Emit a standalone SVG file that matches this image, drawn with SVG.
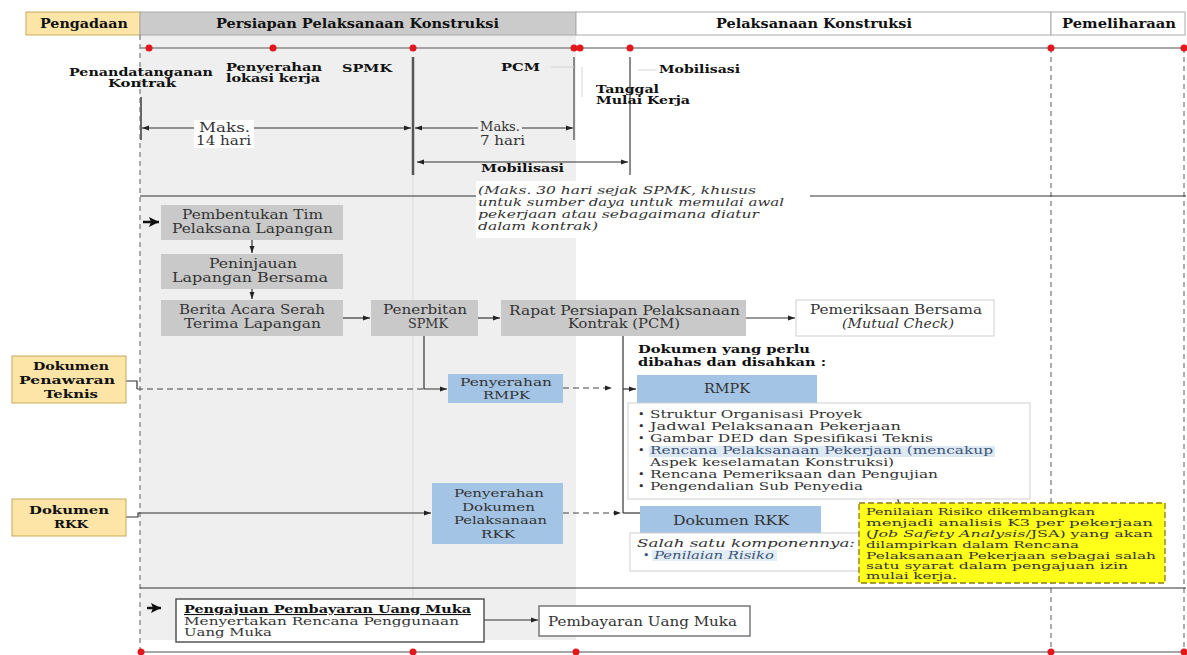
<svg xmlns="http://www.w3.org/2000/svg" width="1187" height="655" viewBox="0 0 1187 655">
<defs>
<style>
text{font-family:"DejaVu Serif","Liberation Serif",serif;font-size:12px;fill:#333}
.b{font-weight:bold;fill:#111}
.i{font-style:italic}
.s{font-size:10px}
.m{font-size:11px}
.hb{font-weight:bold;fill:#111;font-size:12px}
.gbox{fill:#c9c9c9}
.bbox{fill:#a3c4e4}
.ybox{fill:#fde5a8;stroke:#c9aa5c;stroke-width:1}
.wbox{fill:#fff;stroke:#cfcfcf;stroke-width:1}
.ln{stroke:#333;stroke-width:1.2;fill:none}
.dl{stroke:#444;stroke-width:1.2;fill:none;stroke-dasharray:6,4}
.vd{stroke:#777;stroke-width:1.2;stroke-dasharray:5,4;fill:none}
.dot{fill:#e3161b}
.blu{fill:#3d5476}
</style>
<marker id="ah" viewBox="0 0 10 10" refX="10" refY="5" markerWidth="7" markerHeight="7" markerUnits="userSpaceOnUse" orient="auto-start-reverse"><path d="M0,1.5 L10,5 L0,8.5 z" fill="#222"/></marker>
<marker id="big" viewBox="0 0 10 10" refX="10" refY="5" markerWidth="10" markerHeight="10" markerUnits="userSpaceOnUse" orient="auto"><path d="M0,0 L10,5 L0,10 L2,5 z" fill="#111"/></marker>
</defs>
<rect width="1187" height="655" fill="#fff"/>
<g id="background">
<rect x="140" y="35" width="436" height="605" fill="#efefef"/>
<line x1="413" y1="175" x2="413" y2="640" stroke="#e0e0e0" stroke-width="1.5"/>
<rect x="26" y="12" width="114" height="23" fill="#fde5a8" stroke="#c9aa5c"/>
<rect x="140" y="12" width="436" height="23" fill="#cbcbcb" stroke="#aaa"/>
<rect x="576" y="12" width="475" height="23" fill="#fff" stroke="#aaa"/>
<rect x="1051" y="12" width="134" height="23" fill="#fff" stroke="#aaa"/>
<text class="hb" x="40" y="28" textLength="88" lengthAdjust="spacingAndGlyphs">Pengadaan</text>
<text class="hb" x="216" y="28" textLength="283" lengthAdjust="spacingAndGlyphs">Persiapan Pelaksanaan Konstruksi</text>
<text class="hb" x="716" y="28" textLength="196" lengthAdjust="spacingAndGlyphs">Pelaksanaan Konstruksi</text>
<text class="hb" x="1062" y="28" textLength="114" lengthAdjust="spacingAndGlyphs">Pemeliharaan</text>
<line x1="140" y1="35" x2="140" y2="650" class="vd"/>
<line x1="1051" y1="48" x2="1051" y2="650" class="vd"/>
<line x1="1184" y1="48" x2="1184" y2="650" class="vd"/>
<line x1="140" y1="48" x2="1186" y2="48" stroke="#8a8a8a" stroke-width="1.5"/>
<line x1="140" y1="652" x2="1186" y2="652" stroke="#8a8a8a" stroke-width="1.5"/>
<circle class="dot" cx="149" cy="48" r="3.5"/><circle class="dot" cx="273" cy="48" r="3.5"/><circle class="dot" cx="413" cy="48" r="3.5"/><circle class="dot" cx="574" cy="48" r="3.5"/><circle class="dot" cx="580" cy="48" r="3.5"/><circle class="dot" cx="630" cy="48" r="3.5"/><circle class="dot" cx="1051" cy="48" r="3.5"/><circle class="dot" cx="1184" cy="48" r="3.5"/>
<circle class="dot" cx="141" cy="652" r="3.5"/><circle class="dot" cx="413" cy="652" r="3.5"/><circle class="dot" cx="576" cy="652" r="3.5"/><circle class="dot" cx="1051" cy="652" r="3.5"/><circle class="dot" cx="1184" cy="652" r="3.5"/>
<line x1="413" y1="57" x2="413" y2="175" stroke="#555" stroke-width="2.5"/>
<line x1="574" y1="57" x2="574" y2="140" stroke="#666" stroke-width="1.5"/>
<line x1="630" y1="57" x2="630" y2="175" stroke="#666" stroke-width="1.5"/>
<line x1="141" y1="97" x2="141" y2="140" stroke="#666" stroke-width="2"/>
<path d="M551,67 H574 M582,67 V97 M638,70 H656" stroke="#d4d4d4" stroke-width="1" fill="none"/>
<text class="b m" x="69" y="76" textLength="144" lengthAdjust="spacingAndGlyphs">Penandatanganan</text>
<text class="b m" x="108" y="87" textLength="68" lengthAdjust="spacingAndGlyphs">Kontrak</text>
<text class="b m" x="226" y="71" textLength="96" lengthAdjust="spacingAndGlyphs">Penyerahan</text>
<text class="b m" x="226" y="82" textLength="94" lengthAdjust="spacingAndGlyphs">lokasi kerja</text>
<text class="b m" x="342" y="72" textLength="50" lengthAdjust="spacingAndGlyphs">SPMK</text>
<text class="b m" x="501" y="71" textLength="39" lengthAdjust="spacingAndGlyphs">PCM</text>
<text class="b m" x="659" y="73" textLength="81" lengthAdjust="spacingAndGlyphs">Mobilisasi</text>
<text class="b m" x="596" y="93" textLength="63" lengthAdjust="spacingAndGlyphs">Tanggal</text>
<text class="b m" x="596" y="104" textLength="94" lengthAdjust="spacingAndGlyphs">Mulai Kerja</text>
<line x1="140" y1="196" x2="1186" y2="196" stroke="#333" stroke-width="1.2"/>
<line x1="140" y1="588" x2="1186" y2="588" stroke="#333" stroke-width="1.2"/>
<rect x="476" y="181" width="334" height="57" fill="#fff"/>
<text class="i m" x="478" y="194" textLength="278" lengthAdjust="spacingAndGlyphs">(Maks. 30 hari sejak SPMK, khusus</text>
<text class="i m" x="478" y="206" textLength="306" lengthAdjust="spacingAndGlyphs">untuk sumber daya untuk memulai awal</text>
<text class="i m" x="478" y="218" textLength="281" lengthAdjust="spacingAndGlyphs">pekerjaan atau sebagaimana diatur</text>
<text class="i m" x="478" y="230" textLength="120" lengthAdjust="spacingAndGlyphs">dalam kontrak)</text>
</g>
<g id="connectors">
<path class="ln" d="M142,128 H411" marker-start="url(#ah)" marker-end="url(#ah)"/>
<path class="ln" d="M415,128 H573" marker-start="url(#ah)" marker-end="url(#ah)"/>
<path class="ln" d="M417,162 H628" marker-start="url(#ah)" marker-end="url(#ah)"/>
<path d="M143,222 H159" stroke="#111" stroke-width="2.5" fill="none" marker-end="url(#big)"/>
<path class="ln" d="M252,240 V253" marker-end="url(#ah)"/>
<path class="ln" d="M252,289 V299" marker-end="url(#ah)"/>
<path class="ln" d="M343,318 H370" marker-end="url(#ah)"/>
<path class="ln" d="M478,318 H500" marker-end="url(#ah)"/>
<path class="ln" d="M746,318 H795" marker-end="url(#ah)"/>
<path class="ln" d="M424,336 V389 H447" marker-end="url(#ah)"/>
<path class="ln" d="M126,381 H137 V389"/>
<path class="dl" d="M137,389 H424"/>
<path class="dl" d="M563,388 H612" marker-end="url(#ah)"/>
<path class="ln" d="M623,336 V513"/>
<path class="ln" d="M623,389 H636" marker-end="url(#ah)"/>
<path class="ln" d="M623,513 H652" marker-end="url(#ah)"/>
<path class="ln" d="M126,517 H138 V513 H431" marker-end="url(#ah)"/>
<path class="dl" d="M563,513 H621" marker-end="url(#ah)"/>
<path class="ln" d="M899,503 C893,490 906,472 906,458" marker-end="url(#ah)"/>
<path class="ln" d="M859,540 C845,548 830,557 782,557" marker-end="url(#ah)"/>
<path d="M147,608 H161" stroke="#111" stroke-width="2.5" fill="none" marker-end="url(#big)"/>
<path class="ln" d="M484,620 H538" marker-end="url(#ah)"/>
</g>
<g id="dim-labels">
<rect x="194" y="120" width="60" height="28" fill="#fff"/>
<text x="199" y="132" textLength="51" lengthAdjust="spacingAndGlyphs">Maks.</text>
<text x="196" y="145" textLength="55" lengthAdjust="spacingAndGlyphs">14 hari</text>
<rect x="478" y="120" width="44" height="12" fill="#efefef"/>
<text x="480" y="131" textLength="40" lengthAdjust="spacingAndGlyphs">Maks.</text>
<text x="480" y="145" textLength="45" lengthAdjust="spacingAndGlyphs">7 hari</text>
<text class="b m" x="481" y="172" textLength="83" lengthAdjust="spacingAndGlyphs">Mobilisasi</text>
</g>
<g id="pembentukan-tim">
<rect class="gbox" x="161" y="205" width="182" height="35"/>
<text x="182" y="219" textLength="141" lengthAdjust="spacingAndGlyphs">Pembentukan Tim</text>
<text x="172" y="233" textLength="161" lengthAdjust="spacingAndGlyphs">Pelaksana Lapangan</text>
</g>
<g id="peninjauan">
<rect class="gbox" x="161" y="254" width="182" height="35"/>
<text x="209" y="268" textLength="88" lengthAdjust="spacingAndGlyphs">Peninjauan</text>
<text x="172" y="282" textLength="156" lengthAdjust="spacingAndGlyphs">Lapangan Bersama</text>
</g>
<g id="berita-acara">
<rect class="gbox" x="161" y="300" width="182" height="36"/>
<text x="179" y="314" textLength="146" lengthAdjust="spacingAndGlyphs">Berita Acara Serah</text>
<text x="184" y="328" textLength="137" lengthAdjust="spacingAndGlyphs">Terima Lapangan</text>
</g>
<g id="penerbitan-spmk">
<rect class="gbox" x="371" y="300" width="107" height="36"/>
<text x="383" y="314" textLength="84" lengthAdjust="spacingAndGlyphs">Penerbitan</text>
<text x="408" y="328" textLength="40" lengthAdjust="spacingAndGlyphs">SPMK</text>
</g>
<g id="rapat-pcm">
<rect class="gbox" x="501" y="300" width="245" height="36"/>
<text x="509" y="315" textLength="231" lengthAdjust="spacingAndGlyphs">Rapat Persiapan Pelaksanaan</text>
<text x="568" y="328" textLength="112" lengthAdjust="spacingAndGlyphs">Kontrak (PCM)</text>
</g>
<g id="pemeriksaan-bersama">
<rect class="wbox" x="796" y="300" width="198" height="36"/>
<text x="810" y="314" textLength="172" lengthAdjust="spacingAndGlyphs">Pemeriksaan Bersama</text>
<text class="i" x="842" y="328" textLength="112" lengthAdjust="spacingAndGlyphs">(Mutual Check)</text>
</g>
<g id="dokumen-label">
<text class="b m" x="638" y="353" textLength="172" lengthAdjust="spacingAndGlyphs">Dokumen yang perlu</text>
<text class="b m" x="638" y="366" textLength="188" lengthAdjust="spacingAndGlyphs">dibahas dan disahkan :</text>
</g>
<g id="dokumen-penawaran-teknis">
<rect class="ybox" x="12" y="356" width="114" height="47"/>
<text class="b m" x="33" y="370" textLength="76" lengthAdjust="spacingAndGlyphs">Dokumen</text>
<text class="b m" x="19" y="384" textLength="96" lengthAdjust="spacingAndGlyphs">Penawaran</text>
<text class="b m" x="44" y="398" textLength="54" lengthAdjust="spacingAndGlyphs">Teknis</text>
</g>
<g id="penyerahan-rmpk">
<rect class="bbox" x="448" y="374" width="115" height="29"/>
<text class="m" x="460" y="386" textLength="92" lengthAdjust="spacingAndGlyphs">Penyerahan</text>
<text class="m" x="483" y="399" textLength="47" lengthAdjust="spacingAndGlyphs">RMPK</text>
</g>
<g id="rmpk">
<rect class="bbox" x="637" y="375" width="180" height="28"/>
<text x="704" y="393" textLength="46" lengthAdjust="spacingAndGlyphs">RMPK</text>
</g>
<g id="rmpk-list">
<rect class="wbox" x="628" y="403" width="402" height="96"/>
<rect x="649" y="446" width="346" height="11" fill="#dde9f5"/>
<text class="m" x="638" y="418">•</text><text class="m" x="650" y="418" textLength="212" lengthAdjust="spacingAndGlyphs">Struktur Organisasi Proyek</text>
<text class="m" x="638" y="430">•</text><text class="m" x="650" y="430" textLength="251" lengthAdjust="spacingAndGlyphs">Jadwal Pelaksanaan Pekerjaan</text>
<text class="m" x="638" y="442">•</text><text class="m" x="650" y="442" textLength="283" lengthAdjust="spacingAndGlyphs">Gambar DED dan Spesifikasi Teknis</text>
<text class="m" x="638" y="454">•</text><text class="m blu" x="650" y="454" textLength="343" lengthAdjust="spacingAndGlyphs">Rencana Pelaksanaan Pekerjaan (mencakup</text>
<text class="m" x="650" y="466" textLength="244" lengthAdjust="spacingAndGlyphs">Aspek keselamatan Konstruksi)</text>
<text class="m" x="638" y="478">•</text><text class="m" x="650" y="478" textLength="288" lengthAdjust="spacingAndGlyphs">Rencana Pemeriksaan dan Pengujian</text>
<text class="m" x="638" y="490">•</text><text class="m" x="650" y="490" textLength="213" lengthAdjust="spacingAndGlyphs">Pengendalian Sub Penyedia</text>
</g>
<g id="dokumen-rkk-left">
<rect class="ybox" x="12" y="499" width="114" height="37"/>
<text class="b m" x="29" y="514" textLength="80" lengthAdjust="spacingAndGlyphs">Dokumen</text>
<text class="b m" x="54" y="528" textLength="34" lengthAdjust="spacingAndGlyphs">RKK</text>
</g>
<g id="penyerahan-dokumen-rkk">
<rect class="bbox" x="432" y="483" width="131" height="61"/>
<text class="m" x="454" y="497" textLength="90" lengthAdjust="spacingAndGlyphs">Penyerahan</text>
<text class="m" x="462" y="511" textLength="73" lengthAdjust="spacingAndGlyphs">Dokumen</text>
<text class="m" x="454" y="524" textLength="93" lengthAdjust="spacingAndGlyphs">Pelaksanaan</text>
<text class="m" x="481" y="538" textLength="34" lengthAdjust="spacingAndGlyphs">RKK</text>
</g>
<g id="dokumen-rkk">
<rect class="bbox" x="640" y="506" width="181" height="27"/>
<text x="673" y="525" textLength="116" lengthAdjust="spacingAndGlyphs">Dokumen RKK</text>
</g>
<g id="komponen">
<rect class="wbox" x="630" y="533" width="229" height="38"/>
<rect x="652" y="550" width="125" height="11" fill="#e3edf7"/>
<text class="i m" x="637" y="547" textLength="218" lengthAdjust="spacingAndGlyphs">Salah satu komponennya:</text>
<text class="m blu" x="643" y="559">•</text><text class="i m blu" x="654" y="559" textLength="120" lengthAdjust="spacingAndGlyphs">Penilaian Risiko</text>
</g>
<g id="catatan-jsa">
<rect x="859" y="503" width="306" height="80" fill="#ffff1a" stroke="#8c7a1a" stroke-width="1.3" stroke-dasharray="6,3"/>
<text class="s" x="866" y="515" textLength="229" lengthAdjust="spacingAndGlyphs">Penilaian Risiko dikembangkan</text>
<text class="s" x="866" y="526" textLength="287" lengthAdjust="spacingAndGlyphs">menjadi analisis K3 per pekerjaan</text>
<text class="s" x="866" y="537" textLength="287" lengthAdjust="spacingAndGlyphs">(<tspan class="i">Job Safety Analysis</tspan>/JSA) yang akan</text>
<text class="s" x="866" y="548" textLength="213" lengthAdjust="spacingAndGlyphs">dilampirkan dalam Rencana</text>
<text class="s" x="866" y="559" textLength="290" lengthAdjust="spacingAndGlyphs">Pelaksanaan Pekerjaan sebagai salah</text>
<text class="s" x="866" y="569" textLength="262" lengthAdjust="spacingAndGlyphs">satu syarat dalam pengajuan izin</text>
<text class="s" x="866" y="579" textLength="91" lengthAdjust="spacingAndGlyphs">mulai kerja.</text>
</g>
<g id="pengajuan-uang-muka">
<rect x="176" y="599" width="308" height="43" fill="#fff" stroke="#555" stroke-width="1.5"/>
<text class="b m" x="184" y="613" textLength="287" lengthAdjust="spacingAndGlyphs" text-decoration="underline">Pengajuan Pembayaran Uang Muka</text>
<text class="m" x="184" y="625" textLength="275" lengthAdjust="spacingAndGlyphs">Menyertakan Rencana Penggunaan</text>
<text class="m" x="184" y="636" textLength="88" lengthAdjust="spacingAndGlyphs">Uang Muka</text>
</g>
<g id="pembayaran-uang-muka">
<rect x="539" y="606" width="211" height="30" fill="#fff" stroke="#777" stroke-width="1.5"/>
<text x="548" y="626" textLength="189" lengthAdjust="spacingAndGlyphs">Pembayaran Uang Muka</text>
</g>
</svg>
